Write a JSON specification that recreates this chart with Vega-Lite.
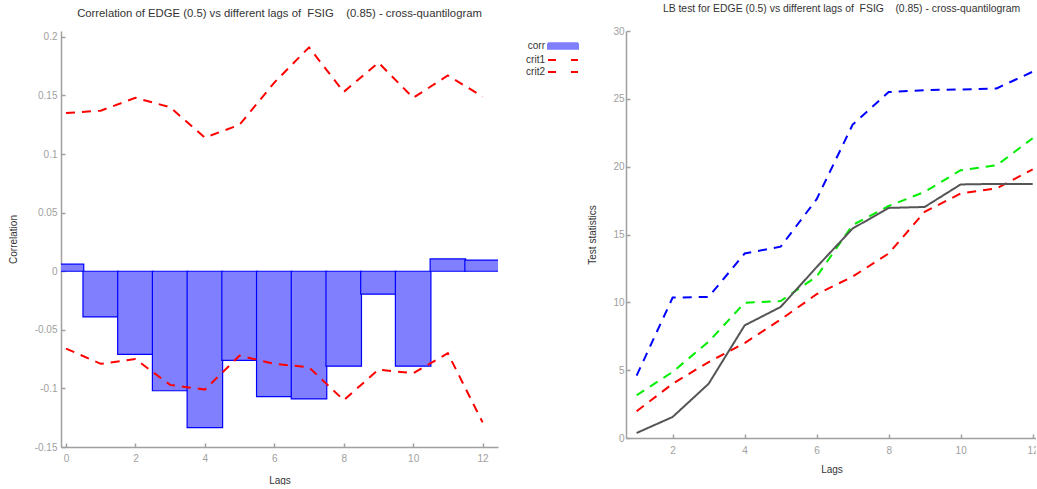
{
  "$schema": "https://vega.github.io/schema/vega-lite/v6.json",
  "background": "white",
  "padding": {"left": 8, "top": 3, "right": -3, "bottom": 0},
  "bounds": "flush",
  "spacing": 128,
  "config": {
    "font": "Liberation Sans",
    "view": {"stroke": null},
    "axis": {
      "grid": false,
      "domainColor": "#a0a0a0",
      "domainWidth": 1.5,
      "tickColor": "#a0a0a0",
      "tickWidth": 1.5,
      "tickSize": -4,
      "labelColor": "#a0a0a0",
      "labelFontSize": 10,
      "labelPadding": 8,
      "titleFontSize": 10,
      "titleFontWeight": "normal",
      "titleColor": "#333333"
    },
    "title": {"fontSize": 11.3, "fontWeight": "normal", "color": "#333333", "anchor": "middle", "offset": 12}
  },
  "resolve": {"scale": {"color": "independent", "x": "independent", "y": "independent"}, "legend": {"color": "independent"}},
  "datasets": {
    "cq": [
      {"lag": 0, "series": "corr", "value": 0.006},
      {"lag": 1, "series": "corr", "value": -0.039},
      {"lag": 2, "series": "corr", "value": -0.071},
      {"lag": 3, "series": "corr", "value": -0.102},
      {"lag": 4, "series": "corr", "value": -0.1335},
      {"lag": 5, "series": "corr", "value": -0.076},
      {"lag": 6, "series": "corr", "value": -0.107},
      {"lag": 7, "series": "corr", "value": -0.109},
      {"lag": 8, "series": "corr", "value": -0.081},
      {"lag": 9, "series": "corr", "value": -0.0196},
      {"lag": 10, "series": "corr", "value": -0.081},
      {"lag": 11, "series": "corr", "value": 0.0105},
      {"lag": 12, "series": "corr", "value": 0.0095},
      {"lag": 0, "series": "crit1", "value": 0.135},
      {"lag": 1, "series": "crit1", "value": 0.137},
      {"lag": 2, "series": "crit1", "value": 0.148},
      {"lag": 3, "series": "crit1", "value": 0.140},
      {"lag": 4, "series": "crit1", "value": 0.114},
      {"lag": 5, "series": "crit1", "value": 0.125},
      {"lag": 6, "series": "crit1", "value": 0.161},
      {"lag": 7, "series": "crit1", "value": 0.191},
      {"lag": 8, "series": "crit1", "value": 0.153},
      {"lag": 9, "series": "crit1", "value": 0.178},
      {"lag": 10, "series": "crit1", "value": 0.148},
      {"lag": 11, "series": "crit1", "value": 0.167},
      {"lag": 12, "series": "crit1", "value": 0.149},
      {"lag": 0, "series": "crit2", "value": -0.066},
      {"lag": 1, "series": "crit2", "value": -0.079},
      {"lag": 2, "series": "crit2", "value": -0.075},
      {"lag": 3, "series": "crit2", "value": -0.097},
      {"lag": 4, "series": "crit2", "value": -0.101},
      {"lag": 5, "series": "crit2", "value": -0.072},
      {"lag": 6, "series": "crit2", "value": -0.079},
      {"lag": 7, "series": "crit2", "value": -0.082},
      {"lag": 8, "series": "crit2", "value": -0.110},
      {"lag": 9, "series": "crit2", "value": -0.084},
      {"lag": 10, "series": "crit2", "value": -0.087},
      {"lag": 11, "series": "crit2", "value": -0.070},
      {"lag": 12, "series": "crit2", "value": -0.129}
    ],
    "lb": [
      {"lag": 1, "series": "blue", "value": 4.6},
      {"lag": 2, "series": "blue", "value": 10.35},
      {"lag": 3, "series": "blue", "value": 10.4},
      {"lag": 4, "series": "blue", "value": 13.6},
      {"lag": 5, "series": "blue", "value": 14.1},
      {"lag": 6, "series": "blue", "value": 17.6},
      {"lag": 7, "series": "blue", "value": 23.1},
      {"lag": 8, "series": "blue", "value": 25.5},
      {"lag": 9, "series": "blue", "value": 25.64},
      {"lag": 10, "series": "blue", "value": 25.69},
      {"lag": 11, "series": "blue", "value": 25.77},
      {"lag": 12, "series": "blue", "value": 27.0},
      {"lag": 1, "series": "green", "value": 3.15},
      {"lag": 2, "series": "green", "value": 4.87},
      {"lag": 3, "series": "green", "value": 7.1},
      {"lag": 4, "series": "green", "value": 9.96},
      {"lag": 5, "series": "green", "value": 10.1},
      {"lag": 6, "series": "green", "value": 11.9},
      {"lag": 7, "series": "green", "value": 15.7},
      {"lag": 8, "series": "green", "value": 17.1},
      {"lag": 9, "series": "green", "value": 18.14},
      {"lag": 10, "series": "green", "value": 19.74},
      {"lag": 11, "series": "green", "value": 20.1},
      {"lag": 12, "series": "green", "value": 22.1},
      {"lag": 1, "series": "red", "value": 1.97},
      {"lag": 2, "series": "red", "value": 4.0},
      {"lag": 3, "series": "red", "value": 5.6},
      {"lag": 4, "series": "red", "value": 7.0},
      {"lag": 5, "series": "red", "value": 8.73},
      {"lag": 6, "series": "red", "value": 10.6},
      {"lag": 7, "series": "red", "value": 11.9},
      {"lag": 8, "series": "red", "value": 13.6},
      {"lag": 9, "series": "red", "value": 16.67},
      {"lag": 10, "series": "red", "value": 18.02},
      {"lag": 11, "series": "red", "value": 18.4},
      {"lag": 12, "series": "red", "value": 19.8},
      {"lag": 1, "series": "stat", "value": 0.37},
      {"lag": 2, "series": "stat", "value": 1.55},
      {"lag": 3, "series": "stat", "value": 4.0},
      {"lag": 4, "series": "stat", "value": 8.3},
      {"lag": 5, "series": "stat", "value": 9.66},
      {"lag": 6, "series": "stat", "value": 12.6},
      {"lag": 7, "series": "stat", "value": 15.44},
      {"lag": 8, "series": "stat", "value": 16.96},
      {"lag": 9, "series": "stat", "value": 17.03},
      {"lag": 10, "series": "stat", "value": 18.69},
      {"lag": 11, "series": "stat", "value": 18.73},
      {"lag": 12, "series": "stat", "value": 18.73}
    ]
  },
  "hconcat": [
    {
      "width": 437,
      "height": 416,
      "title": {"text": "Correlation of EDGE (0.5) vs different lags of\u00a0\u00a0FSIG\u00a0\u00a0\u00a0\u00a0(0.85) - cross-quantilogram", "fontSize": 11.3},
      "data": {"name": "cq"},
      "encoding": {
        "x": {"field": "lag", "type": "quantitative", "scale": {"domain": [0, 12.3], "nice": false, "zero": false},
              "axis": {"values": [0, 2, 4, 6, 8, 10, 12], "title": "Lags", "labelFlush": false, "titlePadding": 12, "labelPadding": 10}},
        "y": {"field": "value", "type": "quantitative", "scale": {"domain": [-0.15, 0.205], "nice": false},
              "axis": {"values": [-0.15, -0.1, -0.05, 0, 0.05, 0.1, 0.15, 0.2], "labelExpr": "'' + datum.value", "title": "Correlation", "titlePadding": 16}},
        "color": {"field": "series", "type": "nominal",
                  "scale": {"domain": ["corr", "crit1", "crit2"], "range": ["#8080ff", "#ff0000", "#ff0000"]},
                  "legend": {
                    "orient": "none", "legendX": 456, "legendY": 9, "title": null, "padding": 0,
                    "rowPadding": 1, "symbolSize": 100, "symbolStrokeWidth": 2,
                    "symbolOffset": 40, "labelOffset": -24, "labelAlign": "right",
                    "labelFontSize": 10, "labelColor": "#333333", "labelFont": "Liberation Sans",
                    "encode": {
                      "symbols": {
                        "update": {
                          "shape": {"signal": "datum.value === 'corr' ? 'M-3,-0.55H3V0.55H-3Z' : 'M-3,0H3'"},
                          "fill": {"signal": "datum.value === 'corr' ? '#8080ff' : 'transparent'"},
                          "stroke": {"signal": "datum.value === 'corr' ? '#0000ff' : '#ff0000'"},
                          "strokeDash": {"signal": "datum.value === 'corr' ? [1, 0] : [8, 15]"},
                          "opacity": {"value": 1}
                        }
                      }
                    }
                  }}
      },
      "layer": [
        {
          "transform": [{"filter": "datum.series === 'corr'"}],
          "mark": {"type": "bar", "size": 35.5, "clip": true, "stroke": "#0000ff", "strokeWidth": 1.2, "opacity": 1}
        },
        {
          "transform": [{"filter": "datum.series !== 'corr'"}],
          "mark": {"type": "line", "strokeWidth": 2, "strokeDash": [9, 7], "clip": true}
        }
      ]
    },
    {
      "width": 411,
      "height": 407,
      "title": {"text": "LB test for EDGE (0.5) vs different lags of\u00a0\u00a0FSIG\u00a0\u00a0\u00a0\u00a0(0.85) - cross-quantilogram", "fontSize": 10.4, "dx": 10},
      "data": {"name": "lb"},
      "mark": {"type": "line", "clip": true},
      "encoding": {
        "x": {"field": "lag", "type": "quantitative", "scale": {"domain": [0.705, 12.12], "nice": false, "zero": false},
              "axis": {"values": [2, 4, 6, 8, 10, 12], "title": "Lags", "labelFlush": false, "titlePadding": 9, "labelPadding": 11}},
        "y": {"field": "value", "type": "quantitative", "scale": {"domain": [0, 30], "nice": false},
              "axis": {"values": [0, 5, 10, 15, 20, 25, 30], "title": "Test statistics", "titlePadding": 15, "labelPadding": 6}},
        "color": {"field": "series", "type": "nominal",
                  "scale": {"domain": ["blue", "green", "red", "stat"], "range": ["#0000ff", "#00ee00", "#ff0000", "#555555"]},
                  "legend": null},
        "strokeDash": {"field": "series", "type": "nominal",
                       "scale": {"domain": ["blue", "green", "red", "stat"], "range": [[9, 7], [9, 7], [9, 7], [1, 0]]},
                       "legend": null},
        "size": {"field": "series", "type": "ordinal",
                 "scale": {"domain": ["blue", "green", "red", "stat"], "range": [2, 2, 2, 1.5]},
                 "legend": null}
      }
    }
  ]
}
